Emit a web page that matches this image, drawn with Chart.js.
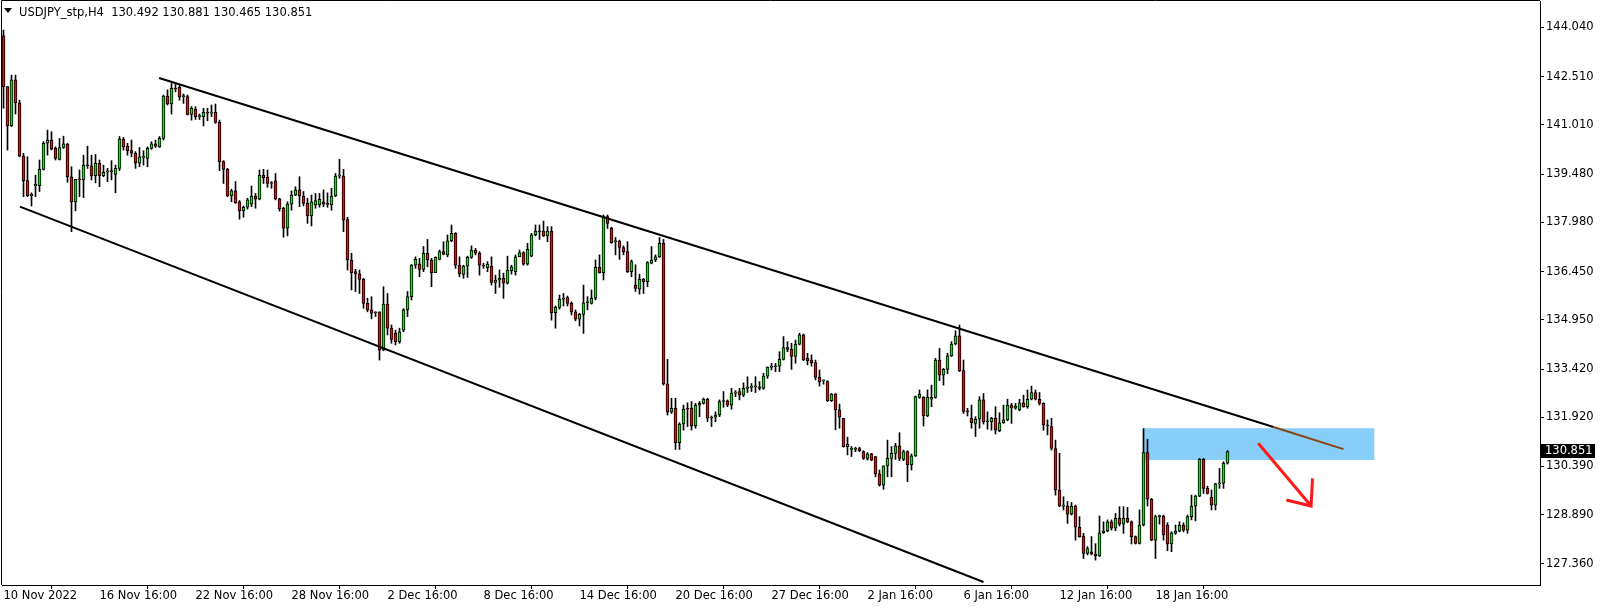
<!DOCTYPE html>
<html>
<head>
<meta charset="utf-8">
<title>USDJPY_stp,H4</title>
<script src="https://cdn.jsdelivr.net/npm/chart.js@4.4.1/dist/chart.umd.min.js"></script>
<style>
  html, body { margin: 0; padding: 0; background: #fff; }
  #wrap { width: 1604px; height: 607px; }
</style>
</head>
<body>
<div id="wrap"><canvas id="chart" width="1604" height="607"></canvas></div>
<script>
const symbol = "USDJPY_stp,H4";

// time axis labels, one every 24 bars
const timeLabels = ["10 Nov 2022", "16 Nov 16:00", "22 Nov 16:00", "28 Nov 16:00", "2 Dec 16:00",
  "8 Dec 16:00", "14 Dec 16:00", "20 Dec 16:00", "27 Dec 16:00", "2 Jan 16:00",
  "6 Jan 16:00", "12 Jan 16:00", "18 Jan 16:00"];

const priceTicks = [144.040, 142.510, 141.010, 139.480, 137.980, 136.450,
  134.950, 133.420, 131.920, 130.390, 128.890, 127.360];

// H4 candles
const opens = [
  143.78, 142.20, 140.98, 142.41, 141.70, 140.04, 139.28, 138.81, 139.12, 139.12,
  139.63, 140.44, 140.54, 140.28, 139.94, 140.31, 140.41, 139.40, 138.62, 139.32,
  139.30, 139.76, 139.74, 139.43, 139.82, 139.43, 139.54, 139.58, 139.47, 139.66,
  140.57, 140.35, 140.21, 140.13, 139.82, 140.00, 139.97, 140.28, 140.42, 140.33,
  140.59, 141.91, 141.66, 142.15, 142.18, 141.89, 141.89, 141.34, 141.50, 141.27,
  141.27, 141.40, 141.38, 141.40, 141.09, 139.87, 139.63, 138.80, 138.96, 138.62,
  138.34, 138.45, 138.55, 138.80, 138.70, 139.45, 139.38, 139.19, 139.27, 138.71,
  138.42, 137.80, 138.55, 138.83, 138.99, 138.80, 138.57, 138.18, 138.52, 138.52,
  138.62, 138.55, 138.52, 138.80, 139.42, 139.42, 138.07, 136.81, 136.45, 136.38,
  136.21, 135.46, 135.26, 135.17, 135.20, 134.01, 135.44, 134.69, 134.53, 134.27,
  134.63, 135.26, 135.67, 136.65, 136.68, 136.52, 137.02, 136.81, 136.42, 136.83,
  137.07, 136.97, 137.41, 137.64, 136.65, 136.36, 136.62, 136.89, 137.12, 137.02,
  136.65, 136.57, 136.62, 136.11, 136.19, 136.24, 136.09, 136.48, 136.45, 136.91,
  137.04, 136.68, 136.93, 137.59, 137.71, 137.71, 137.56, 137.71, 135.17, 135.34,
  135.59, 135.64, 135.46, 135.20, 134.97, 135.12, 135.48, 135.46, 135.62, 136.58,
  136.42, 138.16, 137.80, 137.38, 137.40, 137.20, 137.07, 136.45, 136.02, 135.90,
  136.21, 136.14, 136.71, 136.81, 136.91, 137.33, 132.96, 132.08, 132.20, 131.13,
  131.71, 132.20, 132.20, 131.65, 132.30, 132.35, 132.48, 131.89, 131.92, 131.99,
  132.41, 132.43, 132.30, 132.67, 132.72, 132.61, 132.82, 132.85, 132.87, 132.87,
  132.82, 133.20, 133.47, 133.49, 133.51, 133.72, 134.09, 134.03, 133.81, 134.19,
  134.48, 133.75, 133.70, 133.62, 133.16, 133.05, 133.03, 132.44, 132.64, 132.15,
  131.89, 131.01, 130.92, 130.92, 130.95, 130.85, 130.64, 130.78, 130.70, 130.16,
  129.81, 130.41, 130.64, 130.80, 131.03, 130.61, 130.85, 130.44, 130.72, 132.54,
  132.54, 131.96, 132.48, 132.54, 133.70, 133.23, 133.41, 133.83, 134.20, 134.45,
  133.37, 132.10, 131.89, 131.73, 131.86, 132.46, 131.78, 131.78, 131.89, 131.50,
  131.75, 131.84, 132.30, 132.20, 132.15, 132.37, 132.25, 132.48, 132.69, 132.48,
  132.35, 131.68, 131.63, 130.95, 129.66, 129.16, 129.16, 128.91, 129.16, 128.50,
  128.23, 127.69, 127.74, 127.67, 127.61, 128.33, 128.39, 128.67, 128.47, 128.78,
  128.60, 128.78, 128.67, 128.21, 128.00, 128.57, 130.82, 129.37, 128.10, 128.83,
  128.85, 128.57, 127.98, 128.31, 128.38, 128.57, 128.41, 128.83, 129.16, 129.47,
  130.61, 129.71, 129.43, 129.19, 129.85, 129.87, 130.492
];
const highs = [
  143.96, 142.20, 142.56, 142.56, 141.78, 140.13, 140.02, 138.90, 139.45, 139.92,
  140.49, 140.85, 140.80, 140.33, 140.59, 140.66, 140.44, 139.71, 139.32, 139.61,
  140.07, 140.35, 140.07, 140.09, 139.92, 139.76, 139.66, 139.90, 139.76, 140.65,
  140.62, 140.44, 140.54, 140.18, 140.31, 140.21, 140.33, 140.49, 140.54, 140.65,
  141.94, 142.10, 142.30, 142.27, 142.25, 141.97, 141.94, 141.58, 141.58, 141.35,
  141.53, 141.53, 141.63, 141.66, 141.16, 139.90, 139.66, 139.01, 139.25, 138.66,
  138.49, 138.73, 139.11, 138.88, 139.61, 139.63, 139.61, 139.25, 139.50, 138.73,
  138.45, 138.62, 138.96, 139.09, 139.40, 138.94, 138.73, 138.83, 138.88, 138.88,
  138.99, 138.90, 139.04, 139.50, 139.94, 139.63, 138.14, 137.02, 136.52, 136.50,
  136.24, 135.62, 135.67, 135.20, 135.20, 135.98, 135.77, 134.79, 134.63, 134.69,
  135.30, 135.83, 136.67, 136.91, 136.86, 137.23, 137.45, 136.86, 136.91, 137.12,
  137.38, 137.59, 137.90, 137.66, 136.91, 136.65, 136.93, 137.25, 137.17, 137.07,
  136.71, 136.76, 136.91, 136.34, 136.50, 136.40, 136.93, 136.65, 136.97, 137.12,
  137.07, 137.33, 137.64, 137.90, 137.90, 138.02, 137.85, 137.85, 135.38, 135.72,
  135.77, 135.69, 135.51, 135.26, 135.15, 136.03, 135.67, 135.88, 136.81, 136.97,
  138.21, 138.21, 137.83, 137.51, 137.43, 137.25, 137.38, 136.81, 136.66, 136.37,
  136.24, 136.76, 137.23, 136.97, 137.51, 137.45, 133.72, 132.51, 132.51, 131.75,
  132.30, 132.37, 132.41, 132.35, 132.41, 132.52, 132.51, 131.96, 132.09, 132.46,
  132.72, 132.46, 132.82, 132.75, 132.82, 132.99, 133.18, 132.97, 133.18, 133.03,
  133.29, 133.49, 133.60, 133.60, 133.96, 134.43, 134.27, 134.22, 134.32, 134.53,
  134.51, 133.91, 133.86, 133.70, 133.39, 133.08, 133.06, 132.66, 132.66, 132.33,
  131.89, 131.30, 131.01, 130.99, 130.99, 130.88, 130.82, 130.80, 130.70, 130.28,
  130.41, 131.21, 131.01, 131.11, 131.44, 130.90, 130.88, 130.78, 132.58, 132.77,
  132.56, 132.77, 132.92, 133.75, 134.06, 133.44, 133.91, 134.27, 134.61, 134.79,
  133.70, 132.20, 132.30, 131.94, 132.56, 132.66, 132.09, 131.92, 132.25, 132.06,
  132.30, 132.48, 132.35, 132.35, 132.48, 132.61, 132.77, 132.89, 132.77, 132.69,
  132.37, 131.84, 131.89, 131.21, 130.80, 129.45, 129.30, 129.27, 129.19, 128.83,
  128.31, 127.90, 128.21, 127.99, 128.85, 128.67, 128.73, 128.73, 128.93, 129.14,
  129.14, 129.12, 128.70, 128.23, 129.04, 131.57, 131.23, 129.40, 128.88, 128.88,
  128.88, 128.64, 128.36, 128.57, 128.67, 128.64, 128.88, 129.50, 129.50, 130.64,
  130.64, 129.78, 129.66, 129.87, 130.33, 130.54, 130.881
];
const lows = [
  141.53, 140.23, 140.96, 141.35, 140.02, 138.78, 138.78, 138.49, 138.78, 138.94,
  139.61, 140.07, 140.23, 139.92, 139.92, 140.28, 139.23, 137.69, 138.34, 138.78,
  138.75, 139.66, 139.30, 139.21, 139.09, 139.40, 139.25, 139.30, 138.90, 139.59,
  140.23, 140.07, 140.02, 139.66, 139.71, 139.76, 139.71, 140.25, 140.31, 140.31,
  140.54, 141.63, 141.35, 142.04, 141.78, 141.68, 141.32, 141.16, 141.18, 141.18,
  140.98, 141.14, 141.27, 141.06, 139.59, 139.19, 138.78, 138.62, 138.57, 138.08,
  138.14, 138.39, 138.47, 138.42, 138.68, 139.19, 139.07, 139.04, 138.68, 138.33,
  137.52, 137.56, 138.36, 138.81, 138.47, 138.49, 137.95, 137.87, 138.42, 138.45,
  138.47, 138.45, 138.36, 138.78, 139.35, 137.69, 136.50, 135.88, 135.83, 135.77,
  135.31, 135.20, 134.98, 135.05, 133.70, 133.99, 134.48, 134.22, 134.17, 134.22,
  134.58, 135.05, 135.57, 136.55, 136.29, 136.45, 136.60, 135.98, 136.42, 136.81,
  136.97, 136.91, 137.38, 136.55, 136.29, 136.24, 136.27, 136.86, 136.97, 136.34,
  136.55, 136.45, 136.03, 135.77, 135.96, 135.62, 136.06, 136.37, 136.34, 136.91,
  136.65, 136.65, 136.91, 137.56, 137.45, 137.54, 137.38, 134.94, 134.69, 135.28,
  135.38, 135.38, 135.10, 134.92, 134.76, 134.53, 135.26, 135.44, 135.57, 136.40,
  136.19, 137.79, 137.33, 136.97, 136.83, 136.97, 136.42, 136.29, 135.83, 135.75,
  135.77, 135.98, 136.69, 136.76, 136.89, 132.92, 131.99, 132.04, 130.92, 130.92,
  131.52, 131.63, 131.52, 131.58, 131.94, 132.33, 131.78, 131.63, 131.78, 131.94,
  132.23, 132.25, 132.17, 132.56, 132.46, 132.56, 132.69, 132.72, 132.69, 132.77,
  132.79, 133.13, 133.39, 133.34, 133.34, 133.70, 133.96, 133.41, 133.60, 134.17,
  133.68, 133.55, 133.51, 133.08, 132.89, 132.95, 132.41, 132.41, 131.53, 131.58,
  130.99, 130.75, 130.70, 130.85, 130.85, 130.61, 130.59, 130.57, 130.07, 129.78,
  129.68, 130.07, 130.07, 130.61, 130.57, 130.57, 129.92, 130.28, 130.70, 132.51,
  131.65, 131.94, 132.25, 132.51, 133.06, 132.92, 133.27, 133.81, 134.17, 133.34,
  132.04, 131.96, 131.58, 131.32, 131.58, 131.71, 131.55, 131.52, 131.40, 131.47,
  131.73, 131.81, 131.73, 132.17, 132.12, 132.23, 132.20, 132.46, 132.46, 132.30,
  131.52, 131.37, 130.90, 129.50, 129.14, 129.04, 128.62, 128.88, 128.10, 128.19,
  127.53, 127.64, 127.64, 127.48, 127.59, 128.31, 128.36, 128.41, 128.39, 128.54,
  128.31, 128.64, 127.98, 127.98, 127.98, 128.54, 129.16, 128.08, 127.53, 128.60,
  128.10, 127.77, 127.74, 128.28, 128.36, 128.36, 128.31, 128.73, 128.70, 129.45,
  129.55, 129.53, 129.04, 129.04, 129.71, 129.71, 130.465
];
const closes = [
  142.20, 140.98, 142.41, 141.70, 140.04, 139.28, 138.81, 138.85, 139.16, 139.63,
  140.44, 140.54, 140.26, 139.97, 140.31, 140.42, 139.40, 138.62, 139.32, 139.30,
  139.76, 139.74, 139.43, 139.82, 139.43, 139.54, 139.58, 139.56, 139.66, 140.57,
  140.33, 140.21, 140.13, 139.82, 140.02, 140.02, 140.28, 140.42, 140.35, 140.59,
  141.91, 141.66, 142.15, 142.12, 141.87, 141.89, 141.34, 141.53, 141.27, 141.27,
  141.40, 141.38, 141.40, 141.09, 139.87, 139.63, 138.80, 138.96, 138.59, 138.34,
  138.45, 138.68, 138.80, 138.70, 139.45, 139.37, 139.19, 139.21, 138.71, 138.40,
  137.80, 138.55, 138.83, 138.99, 138.80, 138.57, 138.18, 138.62, 138.66, 138.70,
  138.55, 138.54, 138.80, 139.42, 139.42, 138.05, 136.81, 136.42, 136.38, 136.21,
  135.46, 135.26, 135.15, 135.17, 134.01, 135.44, 134.69, 134.34, 134.27, 134.58,
  135.26, 135.67, 136.65, 136.83, 136.52, 137.02, 136.81, 136.42, 136.89, 137.07,
  136.99, 137.41, 137.64, 136.65, 136.38, 136.62, 136.89, 137.12, 137.02, 136.65,
  136.62, 136.68, 136.11, 136.19, 136.24, 136.09, 136.50, 136.60, 136.91, 137.04,
  136.68, 137.14, 137.59, 137.71, 137.69, 137.56, 137.71, 135.17, 135.34, 135.59,
  135.61, 135.46, 135.20, 134.97, 135.12, 135.48, 135.48, 135.62, 136.58, 136.42,
  138.16, 137.95, 137.35, 137.38, 137.20, 137.07, 136.45, 136.76, 135.93, 136.21,
  136.14, 136.73, 136.81, 136.91, 137.33, 132.96, 132.08, 132.20, 131.13, 131.71,
  132.17, 132.17, 131.65, 132.30, 132.35, 132.48, 131.89, 131.92, 131.99, 132.41,
  132.43, 132.30, 132.67, 132.69, 132.61, 132.82, 132.85, 132.87, 132.87, 132.82,
  133.20, 133.47, 133.49, 133.51, 133.72, 134.09, 134.03, 133.81, 134.19, 134.48,
  133.70, 133.68, 133.62, 133.16, 133.03, 133.05, 132.44, 132.64, 132.15, 131.92,
  131.01, 131.08, 130.92, 130.93, 130.88, 130.64, 130.78, 130.59, 130.16, 129.81,
  130.41, 130.64, 130.80, 131.03, 130.64, 130.85, 130.44, 130.72, 132.56, 132.64,
  131.96, 132.54, 132.54, 133.70, 133.23, 133.41, 133.83, 134.20, 134.45, 133.37,
  132.10, 132.09, 131.75, 131.86, 132.46, 131.78, 131.78, 131.89, 131.52, 131.75,
  131.84, 132.30, 132.20, 132.27, 132.37, 132.25, 132.48, 132.69, 132.48, 132.35,
  131.68, 131.65, 130.95, 129.66, 129.16, 129.16, 128.91, 129.16, 128.50, 128.21,
  127.69, 127.84, 127.67, 127.61, 128.33, 128.39, 128.67, 128.47, 128.78, 128.60,
  128.78, 128.67, 128.21, 128.00, 128.57, 130.82, 129.37, 128.10, 128.83, 128.83,
  128.26, 127.98, 128.33, 128.38, 128.57, 128.41, 128.83, 129.16, 129.47, 130.61,
  129.71, 129.55, 129.19, 129.85, 129.87, 130.49, 130.851
];

// objects drawn on the chart, in (bar index, price)
const upperChannel = [{ x: 38.9, y: 142.47 }, { x: 317.5, y: 131.62 }];
const upperChannelEnd = [{ x: 317.5, y: 131.62 }, { x: 335.0, y: 130.93 }];
const lowerChannel = [{ x: 4.1, y: 138.47 }, { x: 245.0, y: 126.80 }];
const arrowShaft = [{ x: 313.7, y: 131.11 }, { x: 326.9, y: 129.16 }];
const arrowHead = [{ x: 320.7, y: 129.35 }, { x: 326.9, y: 129.16 }, { x: 327.25, y: 130.02 }];
const zoneBars = [285.1, 342.7];
const zonePrices = [130.59, 131.58];

Chart.defaults.font.family = "'DejaVu Sans', sans-serif";
Chart.defaults.font.size = 11.5;
Chart.defaults.color = "#000";

const BULL = "#11e011";
const BEAR = "#ee0a0a";

const barIndex = closes.map((c, i) => i);
const bodyColors = closes.map((c, i) => (c >= opens[i] ? BULL : BEAR));

function drawnLine(points, color, width) {
  return {
    type: "line",
    data: points,
    borderColor: color,
    borderWidth: width,
    pointRadius: 0,
    fill: false,
    tension: 0,
    order: 0
  };
}

const decorations = {
  id: "decorations",
  beforeDatasetsDraw(chart) {
    const { ctx, scales: { x, y } } = chart;
    const left = x.getPixelForValue(zoneBars[0]);
    const right = x.getPixelForValue(zoneBars[1]);
    const top = y.getPixelForValue(zonePrices[1]);
    const bottom = y.getPixelForValue(zonePrices[0]);
    ctx.save();
    ctx.fillStyle = "#87cefa";
    ctx.fillRect(left, top, right - left, bottom - top);
    ctx.restore();
  },
  afterDraw(chart) {
    const { ctx, chartArea: area, scales: { y } } = chart;
    const last = closes.length - 1;
    ctx.save();
    // frame
    ctx.strokeStyle = "#000";
    ctx.lineWidth = 1;
    ctx.beginPath();
    ctx.moveTo(area.left - 0.5, area.bottom);
    ctx.lineTo(area.left - 0.5, area.top - 0.5);
    ctx.lineTo(area.right, area.top - 0.5);
    ctx.stroke();
    // header
    ctx.fillStyle = "#000";
    ctx.beginPath();
    ctx.moveTo(4, 8);
    ctx.lineTo(12, 8);
    ctx.lineTo(8, 13);
    ctx.closePath();
    ctx.fill();
    ctx.font = "11.5px 'DejaVu Sans'";
    ctx.textBaseline = "alphabetic";
    ctx.fillText(symbol + "  " + opens[last].toFixed(3) + " " + highs[last].toFixed(3) + " " +
      lows[last].toFixed(3) + " " + closes[last].toFixed(3), 19, 16);
    // last price tag
    const py = Math.round(y.getPixelForValue(closes[last])) - 1;
    ctx.fillRect(area.right, py - 7, 55, 14);
    ctx.fillStyle = "#fff";
    ctx.textBaseline = "middle";
    ctx.fillText(closes[last].toFixed(3), area.right + 5, py);
    ctx.restore();
  }
};

const chart = new Chart(document.getElementById("chart"), {
  type: "bar",
  data: {
    datasets: [
      drawnLine(upperChannel, "#000", 2),
      drawnLine(upperChannelEnd, "#8b4513", 2),
      drawnLine(lowerChannel, "#000", 2),
      drawnLine(arrowShaft, "#ff1a1a", 3),
      drawnLine(arrowHead, "#ff1a1a", 3),
      {
        label: "body",
        data: barIndex.map(i => ({ x: i, y: [opens[i], closes[i]] })),
        backgroundColor: bodyColors,
        borderColor: "#000",
        borderWidth: 1,
        borderSkipped: false,
        barThickness: 3,
        minBarLength: 1,
        grouped: false,
        order: 5
      },
      {
        label: "wick",
        data: barIndex.map(i => ({ x: i, y: [lows[i], highs[i]] })),
        backgroundColor: "#000",
        borderWidth: 0,
        barThickness: 1,
        grouped: false,
        order: 6
      }
    ]
  },
  options: {
    responsive: false,
    animation: false,
    events: [],
    layout: { padding: { left: 2, top: 1, right: 0, bottom: 0 } },
    plugins: { legend: { display: false }, tooltip: { enabled: false } },
    scales: {
      x: {
        type: "linear",
        min: -0.375,
        max: 384.125,
        offset: false,
        grid: { drawOnChartArea: false, drawTicks: true, tickLength: 4, color: "#000" },
        border: { display: true, color: "#000", width: 1 },
        ticks: {
          autoSkip: false,
          maxRotation: 0,
          align: "start",
          padding: 0,
          callback: value => timeLabels[Math.round(value / 24)]
        },
        afterBuildTicks: scale => {
          scale.ticks = timeLabels.map((t, k) => ({ value: k * 24 }));
        },
        afterFit: scale => {
          scale.height = 22;
          scale.paddingLeft = 0;
          scale.paddingRight = 0;
        }
      },
      y: {
        type: "linear",
        position: "right",
        min: 126.705,
        max: 144.864,
        bounds: "data",
        grid: { drawOnChartArea: false, drawTicks: true, tickLength: 4, color: "#000" },
        border: { display: true, color: "#000", width: 1 },
        ticks: { padding: 2, callback: value => value.toFixed(3) },
        afterBuildTicks: scale => {
          scale.ticks = priceTicks.map(v => ({ value: v }));
        },
        afterFit: scale => {
          scale.width = 64;
          scale.paddingTop = 0;
          scale.paddingBottom = 0;
        }
      }
    }
  },
  plugins: [decorations]
});
</script>
</body>
</html>
